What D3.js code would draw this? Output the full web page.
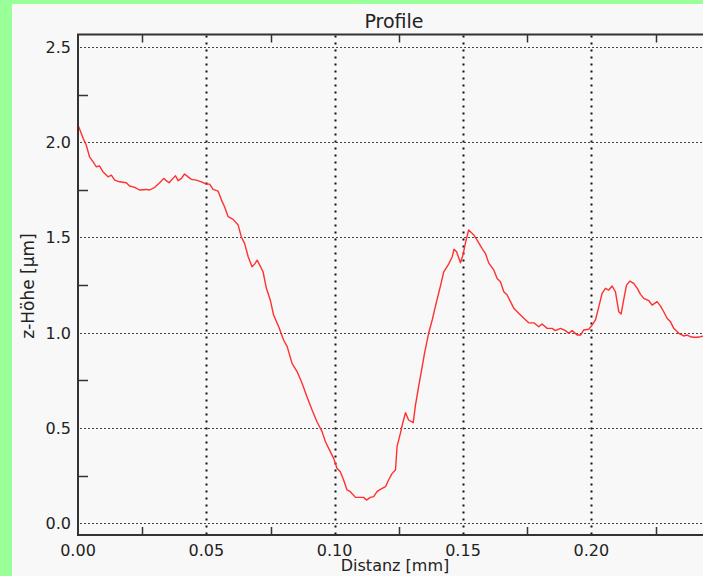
<!DOCTYPE html>
<html>
<head>
<meta charset="utf-8">
<script src="https://cdn.jsdelivr.net/npm/d3@7"></script>
<style>
  html, body { margin: 0; padding: 0; background: #99ff99; }
  svg { display: block; font-family: 'DejaVu Sans', sans-serif; }
</style>
</head>
<body>
<svg id="chart" width="703" height="576"></svg>
<script>
// profile trace, distance in mm
const distance = [
  0.0000, 0.0020, 0.0032, 0.0045, 0.0059, 0.0071, 0.0084, 0.0097, 0.0117, 0.0130,
  0.0143, 0.0162, 0.0188, 0.0201, 0.0221, 0.0240, 0.0266, 0.0279, 0.0299, 0.0318,
  0.0334, 0.0344, 0.0355, 0.0370, 0.0380, 0.0390, 0.0403, 0.0415, 0.0429, 0.0442,
  0.0461, 0.0481, 0.0500, 0.0513, 0.0526, 0.0546, 0.0559, 0.0571, 0.0585, 0.0604,
  0.0624, 0.0636, 0.0649, 0.0663, 0.0678, 0.0688, 0.0698, 0.0708, 0.0721, 0.0734,
  0.0749, 0.0762, 0.0782, 0.0801, 0.0815, 0.0834, 0.0854, 0.0873, 0.0892, 0.0912,
  0.0931, 0.0951, 0.0964, 0.0983, 0.0996, 0.1009, 0.1022, 0.1035, 0.1048, 0.1061,
  0.1081, 0.1100, 0.1113, 0.1124, 0.1139, 0.1152, 0.1165, 0.1178, 0.1198, 0.1210,
  0.1224, 0.1237, 0.1243, 0.1256, 0.1265, 0.1276, 0.1288, 0.1306, 0.1315, 0.1327,
  0.1341, 0.1350, 0.1366, 0.1380, 0.1392, 0.1405, 0.1412, 0.1425, 0.1444, 0.1458,
  0.1465, 0.1475, 0.1490, 0.1500, 0.1509, 0.1522, 0.1542, 0.1555, 0.1574, 0.1587,
  0.1600, 0.1620, 0.1633, 0.1646, 0.1659, 0.1672, 0.1685, 0.1698, 0.1717, 0.1737,
  0.1756, 0.1776, 0.1795, 0.1808, 0.1828, 0.1847, 0.1860, 0.1880, 0.1899, 0.1912,
  0.1925, 0.1945, 0.1958, 0.1970, 0.1990, 0.2003, 0.2016, 0.2029, 0.2042, 0.2055,
  0.2068, 0.2081, 0.2094, 0.2107, 0.2116, 0.2126, 0.2137, 0.2150, 0.2165, 0.2179,
  0.2191, 0.2204, 0.2224, 0.2237, 0.2256, 0.2269, 0.2282, 0.2295, 0.2308, 0.2321,
  0.2341, 0.2360, 0.2373, 0.2386, 0.2399, 0.2412, 0.2425, 0.2437, 0.2450
]

// z height in µm
const height = [
  2.09, 2.02, 1.985, 1.923, 1.897, 1.871, 1.875, 1.845, 1.818, 1.827,
  1.801, 1.792, 1.787, 1.770, 1.763, 1.749, 1.752, 1.749, 1.763, 1.787,
  1.810, 1.798, 1.787, 1.810, 1.824, 1.798, 1.810, 1.833, 1.818, 1.805,
  1.801, 1.792, 1.780, 1.780, 1.752, 1.743, 1.696, 1.661, 1.609, 1.595,
  1.565, 1.504, 1.469, 1.399, 1.346, 1.360, 1.381, 1.355, 1.320, 1.233,
  1.172, 1.093, 1.031, 0.962, 0.927, 0.839, 0.795, 0.735, 0.664, 0.594,
  0.533, 0.481, 0.428, 0.376, 0.341, 0.289, 0.271, 0.227, 0.175, 0.166,
  0.136, 0.136, 0.136, 0.122, 0.136, 0.140, 0.166, 0.178, 0.192, 0.227,
  0.262, 0.280, 0.402, 0.472, 0.525, 0.580, 0.542, 0.528, 0.621, 0.717,
  0.822, 0.892, 0.997, 1.067, 1.136, 1.207, 1.245, 1.320, 1.360, 1.399,
  1.438, 1.425, 1.367, 1.408, 1.469, 1.539, 1.513, 1.486, 1.443, 1.417,
  1.367, 1.329, 1.285, 1.268, 1.215, 1.198, 1.163, 1.128, 1.102, 1.076,
  1.052, 1.052, 1.031, 1.046, 1.023, 1.023, 1.011, 1.023, 1.011, 0.997,
  1.011, 0.988, 0.988, 1.014, 1.018, 1.040, 1.067, 1.136, 1.207, 1.233,
  1.224, 1.245, 1.215, 1.110, 1.098, 1.172, 1.250, 1.271, 1.259, 1.233,
  1.203, 1.180, 1.168, 1.145, 1.163, 1.141, 1.110, 1.076, 1.058, 1.023,
  0.997, 0.983, 0.988, 0.979, 0.976, 0.976, 0.979, 0.983, 0.985
]

const xMajorTicks = [0, 0.05, 0.10, 0.15, 0.20]
const xMinorTicks = [0.025, 0.075, 0.125, 0.175, 0.225]
const yMajorTicks = [0, 0.5, 1.0, 1.5, 2.0, 2.5]
const yMinorTicks = [0.25, 0.75, 1.25, 1.75, 2.25]

const svg = d3.select('#chart')
const W = 703, H = 576
const plot = { left: 78, top: 34.5, bottom: 535, right: 720 }

// light panel on green frame
svg.append('rect')
  .attr('x', 12).attr('y', 4)
  .attr('width', W - 12).attr('height', H - 4)
  .style('fill', '#f8f8f8')

const x = d3.scaleLinear().domain([0, 0.25]).range([plot.left, plot.left + 0.25 * 2566.7])
const y = d3.scaleLinear().domain([-0.0614, 2.565]).range([plot.bottom, plot.top])

// horizontal grid
svg.append('g')
  .selectAll('line')
  .data(yMajorTicks)
  .join('line')
  .attr('x1', plot.left + 2)
  .attr('x2', W)
  .attr('y1', d => Math.round(y(d)) + 0.5)
  .attr('y2', d => Math.round(y(d)) + 0.5)
  .style('stroke', '#444')
  .style('stroke-width', 1)
  .style('stroke-dasharray', '2,2')

// vertical grid
svg.append('g')
  .selectAll('line')
  .data(xMajorTicks.slice(1))
  .join('line')
  .attr('x1', d => Math.round(x(d)) + 0.5)
  .attr('x2', d => Math.round(x(d)) + 0.5)
  .attr('y1', plot.top + 1)
  .attr('y2', plot.bottom)
  .style('stroke', '#111')
  .style('stroke-width', 2)
  .style('stroke-dasharray', '2,5')

// minor ticks
svg.append('g')
  .selectAll('line')
  .data(yMinorTicks)
  .join('line')
  .attr('x1', plot.left)
  .attr('x2', plot.left + 10)
  .attr('y1', d => Math.round(y(d)) + 0.5)
  .attr('y2', d => Math.round(y(d)) + 0.5)
  .style('stroke', '#333')
  .style('stroke-width', 1.5)

svg.append('g')
  .selectAll('line')
  .data(xMinorTicks)
  .join('line')
  .attr('x1', d => Math.round(x(d)) + 0.5)
  .attr('x2', d => Math.round(x(d)) + 0.5)
  .attr('y1', plot.bottom)
  .attr('y2', plot.bottom - 8)
  .style('stroke', '#333')
  .style('stroke-width', 1.5)

svg.append('g')
  .selectAll('line')
  .data(xMinorTicks)
  .join('line')
  .attr('x1', d => Math.round(x(d)) + 0.5)
  .attr('x2', d => Math.round(x(d)) + 0.5)
  .attr('y1', plot.top)
  .attr('y2', plot.top + 8)
  .style('stroke', '#333')
  .style('stroke-width', 1.5)

// profile line
const line = d3.line()
  .x((d, i) => x(distance[i]))
  .y(d => y(d))

svg.append('path')
  .datum(height)
  .attr('d', line)
  .style('fill', 'none')
  .style('stroke', '#ff3030')
  .style('stroke-width', 1.4)
  .style('stroke-linejoin', 'round')

// axis frame
svg.append('path')
  .attr('d', `M${W},${plot.top} H${plot.left} V${plot.bottom} H${W}`)
  .style('fill', 'none')
  .style('stroke', '#333')
  .style('stroke-width', 2)

// tick labels
svg.append('g')
  .selectAll('text')
  .data(yMajorTicks)
  .join('text')
  .attr('x', 71)
  .attr('y', d => y(d))
  .attr('dy', '0.37em')
  .style('text-anchor', 'end')
  .style('font-size', '16px')
  .style('fill', '#222')
  .text(d => d.toFixed(1))

svg.append('g')
  .selectAll('text')
  .data(xMajorTicks)
  .join('text')
  .attr('x', d => x(d))
  .attr('y', 556)
  .style('text-anchor', 'middle')
  .style('font-size', '16px')
  .style('fill', '#222')
  .text(d => d.toFixed(2))

// titles
svg.append('text')
  .attr('x', 394)
  .attr('y', 28)
  .style('text-anchor', 'middle')
  .style('font-size', '19px')
  .style('fill', '#222')
  .text('Profile')

svg.append('text')
  .attr('x', 395)
  .attr('y', 571)
  .style('text-anchor', 'middle')
  .style('font-size', '16px')
  .style('fill', '#222')
  .text('Distanz [mm]')

svg.append('text')
  .attr('transform', 'translate(34,286) rotate(-90)')
  .style('text-anchor', 'middle')
  .style('font-size', '17px')
  .style('fill', '#222')
  .text('z-Höhe [µm]')
</script>
</body>
</html>
